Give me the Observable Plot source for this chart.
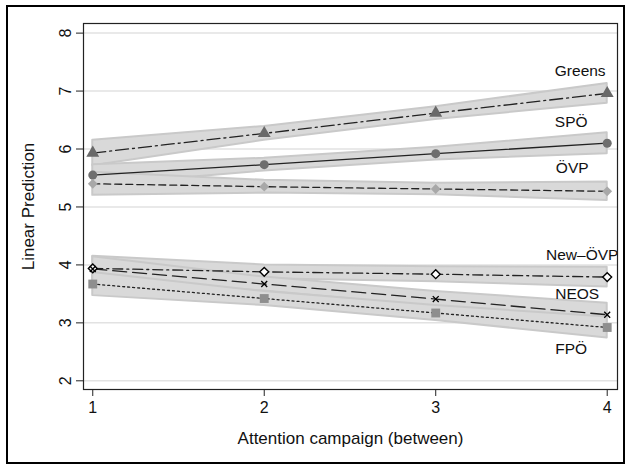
<!DOCTYPE html>
<html><head><meta charset="utf-8">
<script src="https://cdn.jsdelivr.net/npm/d3@7"></script>
<script src="https://cdn.jsdelivr.net/npm/@observablehq/plot@0.6"></script>
<style>
body{margin:0;background:#fff;}
#wrap{position:relative;width:631px;height:465px;overflow:hidden;}
#border{position:absolute;left:6px;top:5px;width:619px;height:459px;border:2.5px solid #000;box-sizing:border-box;pointer-events:none;}
</style></head><body>
<div id="wrap"><div id="chart"></div><div id="border"></div></div>
<script>
// ---- data ----
const campaign = [1, 2, 3, 4];
const parties = ["Greens", "SPÖ", "ÖVP", "New–ÖVP", "NEOS", "FPÖ"];
const yTicks = [2, 3, 4, 5, 6, 7, 8];
const xTicks = [1, 2, 3, 4];

const greensFit = [5.93, 6.27, 6.62, 6.96];
const greensLo  = [5.71, 6.15, 6.51, 6.79];
const greensHi  = [6.15, 6.39, 6.73, 7.13];

const spoFit = [5.55, 5.73, 5.92, 6.10];
const spoLo  = [5.37, 5.62, 5.81, 5.92];
const spoHi  = [5.73, 5.84, 6.03, 6.28];

const ovpFit = [5.40, 5.35, 5.31, 5.27];
const ovpLo  = [5.20, 5.24, 5.21, 5.11];
const ovpHi  = [5.60, 5.46, 5.41, 5.43];

const newOvpFit = [3.94, 3.88, 3.84, 3.79];
const newOvpLo  = [3.73, 3.76, 3.71, 3.62];
const newOvpHi  = [4.15, 4.00, 3.97, 3.96];

const neosFit = [3.93, 3.67, 3.41, 3.14];
const neosLo  = [3.72, 3.55, 3.28, 2.94];
const neosHi  = [4.14, 3.79, 3.54, 3.34];

const fpoFit = [3.67, 3.42, 3.17, 2.92];
const fpoLo  = [3.47, 3.30, 3.04, 2.74];
const fpoHi  = [3.87, 3.54, 3.30, 3.10];

const fits = [greensFit, spoFit, ovpFit, newOvpFit, neosFit, fpoFit];
const los  = [greensLo, spoLo, ovpLo, newOvpLo, neosLo, fpoLo];
const his  = [greensHi, spoHi, ovpHi, newOvpHi, neosHi, fpoHi];

// ---- styles ----
const style = {
  "Greens":  {dash: "13,4,2,4", symbol: "triangle", fill: "#696969", stroke: "none", r: 4.8, sw: 0, ldx: -27, ldy: -22},
  "SPÖ":     {dash: null,       symbol: "circle",   fill: "#6e6e6e", stroke: "none", r: 4.5, sw: 0, ldx: -36, ldy: -21},
  "ÖVP":     {dash: "7,4",      symbol: "diamond2", fill: "#a8a8a8", stroke: "none", r: 4.4, sw: 0, ldx: -35, ldy: -23},
  "New–ÖVP": {dash: "10,4,2,4", symbol: "diamond2", fill: "#ffffff", stroke: "#000", r: 4.0, sw: 1.4, ldx: -25, ldy: -22},
  "NEOS":    {dash: "14,6",     symbol: "times",    fill: "none",    stroke: "#000", r: 2.8, sw: 1.3, ldx: -30, ldy: -21},
  "FPÖ":     {dash: "2,3",      symbol: "square",   fill: "#8e8e8e", stroke: "none", r: 5.0, sw: 0, ldx: -36, ldy: 22}
};

const rows = parties.flatMap((p, i) => campaign.map((c, j) => ({
  party: p, x: c, y: fits[i][j], lo: los[i][j], hi: his[i][j]
})));

const font = "'Liberation Sans', Arial, Helvetica, sans-serif";

const marks = [
  Plot.gridY(yTicks, {stroke: "#e2e2e2", strokeOpacity: 1, strokeWidth: 1.5}),
  Plot.areaY(rows, {x: "x", y1: "lo", y2: "hi", z: "party", fill: "#d9d9d9", stroke: "#c9c9c9", strokeWidth: 2, curve: "linear"})
];
for (const p of parties) {
  const s = style[p];
  const d = rows.filter(r => r.party === p);
  marks.push(Plot.line(d, {x: "x", y: "y", stroke: "#222", strokeWidth: 1.3, strokeDasharray: s.dash || undefined}));
}
for (const p of parties) {
  const s = style[p];
  const d = rows.filter(r => r.party === p);
  marks.push(Plot.dot(d, {x: "x", y: "y", symbol: () => s.symbol, r: s.r, fill: s.fill, stroke: s.stroke, strokeWidth: s.sw}));
}
for (const p of parties) {
  const s = style[p];
  const d = rows.filter(r => r.party === p && r.x === campaign[campaign.length - 1]);
  marks.push(Plot.text(d, {x: "x", y: "y", text: "party", dx: s.ldx, dy: s.ldy, fontSize: 15.5, fill: "#111", textAnchor: "middle", lineAnchor: "middle"}));
}
marks.push(
  Plot.frame({stroke: "#222", strokeWidth: 1.2}),
  Plot.axisX({ticks: xTicks, tickSize: 7, tickPadding: 5, fontSize: 16, tickFormat: d3.format("d"), label: null, stroke: "#222", color: "#111"}),
  Plot.axisY({ticks: yTicks, tickSize: 7, tickFormat: () => "", label: null, stroke: "#222"}),
  Plot.text(yTicks, {y: d => d, text: d => String(d), frameAnchor: "left", dx: -18, rotate: -90, fontSize: 16, fill: "#111", textAnchor: "middle", lineAnchor: "middle"}),
  Plot.text(["Linear Prediction"], {frameAnchor: "left", dx: -55, rotate: -90, fontSize: 17, fill: "#111", textAnchor: "middle", lineAnchor: "middle"}),
  Plot.text(["Attention campaign (between)"], {frameAnchor: "bottom", dy: 49, fontSize: 17, fill: "#111", textAnchor: "middle", lineAnchor: "middle"})
);

const chart = Plot.plot({
  width: 631,
  height: 465,
  marginLeft: 83,
  marginRight: 14,
  marginTop: 23,
  marginBottom: 76,
  style: {fontFamily: font, background: "#fff", color: "#111"},
  x: {domain: [0.946, 4.06]},
  y: {domain: [1.85, 8.166]},
  marks
});
document.getElementById("chart").appendChild(chart);
</script>
</body></html>
